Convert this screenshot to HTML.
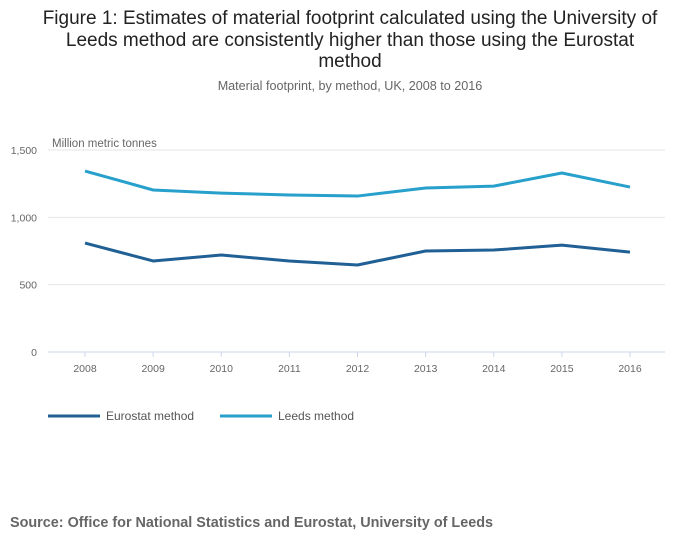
<!DOCTYPE html>
<html><head><meta charset="utf-8">
<style>
body{margin:0;background:#fff;font-family:"Liberation Sans",sans-serif;}
#wrap{position:relative;width:700px;height:549px;overflow:hidden;}
</style></head>
<body>
<div id="wrap">
<svg id="chart" width="700" height="549">
<text x="350" y="24" text-anchor="middle" font-size="19" fill="#222">Figure 1: Estimates of material footprint calculated using the University of</text>
<text x="350" y="46" text-anchor="middle" font-size="19" fill="#222">Leeds method are consistently higher than those using the Eurostat</text>
<text x="350" y="67" text-anchor="middle" font-size="19" fill="#222">method</text>
<text x="350" y="90" text-anchor="middle" font-size="12.6" fill="#666">Material footprint, by method, UK, 2008 to 2016</text>
<text x="52" y="147" font-size="11.5" fill="#666">Million metric tonnes</text>
<g id="grid"></g>
<g id="series"></g>
<line x1="48" y1="416" x2="100" y2="416" stroke="#206095" stroke-width="3"/>
<text x="106" y="420" font-size="12" fill="#555">Eurostat method</text>
<line x1="220" y1="416" x2="272" y2="416" stroke="#27a0cc" stroke-width="3"/>
<text x="278" y="420" font-size="12" fill="#555">Leeds method</text>
<text x="10" y="527" font-size="14.4" font-weight="bold" fill="#666">Source: Office for National Statistics and Eurostat, University of Leeds</text>
</svg>
</div>
<script>
const years=["2008","2009","2010","2011","2012","2013","2014","2015","2016"];
const eurostat=[809,676,720,676,646,750,757,794,742];
const leeds=[1344,1203,1180,1166,1158,1218,1232,1329,1225];
const yTicks=[0,500,1000,1500];
const yTickLabels=["0","500","1,000","1,500"];
const NS="http://www.w3.org/2000/svg";
function xs(i){return 85+i*(630-85)/8;}
function ys(v){return 352-v*(352-150)/1500;}
const grid=document.getElementById('grid');
yTicks.forEach((t,i)=>{
  const l=document.createElementNS(NS,'line');
  l.setAttribute('x1',48);l.setAttribute('x2',665);
  l.setAttribute('y1',ys(t));l.setAttribute('y2',ys(t));
  l.setAttribute('stroke',t===0?'#ccd6eb':'#e6e6e6');
  
  
  grid.appendChild(l);
  const tx=document.createElementNS(NS,'text');
  tx.setAttribute('x',37);tx.setAttribute('y',ys(t)+4);
  tx.setAttribute('text-anchor','end');tx.setAttribute('font-size','10.5');tx.setAttribute('fill','#666');
  tx.textContent=yTickLabels[i];
  
  
  grid.appendChild(tx);
});
years.forEach((y,i)=>{
  const tk=document.createElementNS(NS,'line');
  tk.setAttribute('x1',xs(i));tk.setAttribute('x2',xs(i));
  tk.setAttribute('y1',352);tk.setAttribute('y2',357);tk.setAttribute('stroke','#ccd6eb');
  
  
  grid.appendChild(tk);
  const tx=document.createElementNS(NS,'text');
  tx.setAttribute('x',xs(i));tx.setAttribute('y',372);
  tx.setAttribute('text-anchor','middle');tx.setAttribute('font-size','10.5');tx.setAttribute('fill','#666');
  tx.textContent=y;
  
  
  grid.appendChild(tx);
});
const ser=document.getElementById('series');
function draw(vals,color,name){
  const p=document.createElementNS(NS,'path');
  p.setAttribute('d',vals.map((v,i)=>(i?'L':'M')+xs(i)+' '+ys(v)).join(' '));
  p.setAttribute('fill','none');p.setAttribute('stroke',color);p.setAttribute('stroke-width','3');
  p.setAttribute('stroke-linejoin','round');
  
  
  ser.appendChild(p);
}
draw(eurostat,'#206095','eurostat-line');
draw(leeds,'#27a0cc','leeds-line');
</script>
</body></html>
